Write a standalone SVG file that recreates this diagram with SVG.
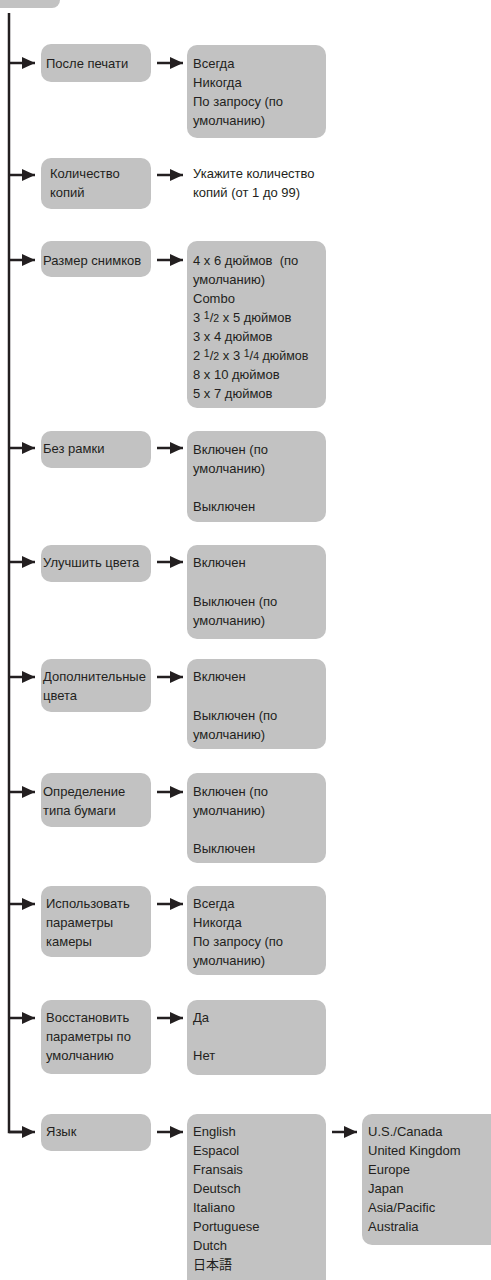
<svg xmlns="http://www.w3.org/2000/svg" width="491" height="1280" viewBox="0 0 491 1280">
<style>
.box{fill:#c2c2c2;}
.t{font-family:"Liberation Sans","Noto Sans CJK JP",sans-serif;font-size:13px;fill:#231f20;}
.sm{font-size:10.5px;}
.ln{stroke:#231f20;stroke-width:2.5;fill:none;}
</style>
<defs>
<marker id="ah" markerWidth="13" markerHeight="12" refX="13" refY="6" orient="auto" markerUnits="userSpaceOnUse">
<path d="M0,0 L13,6 L0,12 Z" fill="#231f20"/>
</marker>
</defs>
<rect width="491" height="1280" fill="#ffffff"/>

<g id="top"><rect class="box" x="-20" y="-20" width="80" height="28" rx="8"/></g>

<g id="connectors">
<path class="ln" d="M9,13 V1132 H23"/>
<line class="ln" x1="9" y1="63" x2="35" y2="63" marker-end="url(#ah)"/>
<line class="ln" x1="9" y1="175" x2="35" y2="175" marker-end="url(#ah)"/>
<line class="ln" x1="9" y1="260" x2="35" y2="260" marker-end="url(#ah)"/>
<line class="ln" x1="9" y1="448" x2="35" y2="448" marker-end="url(#ah)"/>
<line class="ln" x1="9" y1="562" x2="35" y2="562" marker-end="url(#ah)"/>
<line class="ln" x1="9" y1="677" x2="35" y2="677" marker-end="url(#ah)"/>
<line class="ln" x1="9" y1="792" x2="35" y2="792" marker-end="url(#ah)"/>
<line class="ln" x1="9" y1="904" x2="35" y2="904" marker-end="url(#ah)"/>
<line class="ln" x1="9" y1="1018" x2="35" y2="1018" marker-end="url(#ah)"/>
<line class="ln" x1="9" y1="1132" x2="35" y2="1132" marker-end="url(#ah)"/>
<line class="ln" x1="157" y1="63" x2="183" y2="63" marker-end="url(#ah)"/>
<line class="ln" x1="157" y1="175" x2="183" y2="175" marker-end="url(#ah)"/>
<line class="ln" x1="157" y1="260" x2="183" y2="260" marker-end="url(#ah)"/>
<line class="ln" x1="157" y1="448" x2="183" y2="448" marker-end="url(#ah)"/>
<line class="ln" x1="157" y1="562" x2="183" y2="562" marker-end="url(#ah)"/>
<line class="ln" x1="157" y1="677" x2="183" y2="677" marker-end="url(#ah)"/>
<line class="ln" x1="157" y1="792" x2="183" y2="792" marker-end="url(#ah)"/>
<line class="ln" x1="157" y1="904" x2="183" y2="904" marker-end="url(#ah)"/>
<line class="ln" x1="157" y1="1018" x2="183" y2="1018" marker-end="url(#ah)"/>
<line class="ln" x1="157" y1="1132" x2="183" y2="1132" marker-end="url(#ah)"/>
<line class="ln" x1="332" y1="1132" x2="357" y2="1132" marker-end="url(#ah)"/>
</g>

<g id="cat1"><rect class="box" x="41" y="44" width="110" height="38" rx="10"/>
<text class="t" x="46" y="68">После печати</text></g>
<g id="opt1"><rect class="box" x="187" y="45" width="139" height="93" rx="10"/>
<text class="t" x="193" y="68">Всегда</text><text class="t" x="193" y="87">Никогда</text><text class="t" x="193" y="106">По запросу (по</text><text class="t" x="193" y="125">умолчанию)</text></g>

<g id="cat2"><rect class="box" x="41" y="158" width="110" height="51" rx="10"/>
<text class="t" x="50" y="178">Количество</text><text class="t" x="50" y="197">копий</text></g>
<g id="opt2"><text class="t" x="193" y="178">Укажите количество</text><text class="t" x="193" y="197">копий (от 1 до 99)</text></g>

<g id="cat3"><rect class="box" x="41" y="241" width="110" height="36" rx="10"/>
<text class="t" x="43" y="265">Размер снимков</text></g>
<g id="opt3"><rect class="box" x="187" y="241" width="139" height="167" rx="10"/>
<text class="t" x="193" y="265" xml:space="preserve">4 x 6 дюймов  (по</text>
<text class="t" x="193" y="284">умолчанию)</text>
<text class="t" x="193" y="303">Combo</text>
<text class="t" x="193" y="322">3 <tspan class="sm" dy="-3">1</tspan><tspan dy="3">/</tspan><tspan class="sm">2</tspan> x 5 дюймов</text>
<text class="t" x="193" y="341">3 x 4 дюймов</text>
<text class="t" x="193" y="360">2 <tspan class="sm" dy="-3">1</tspan><tspan dy="3">/</tspan><tspan class="sm">2</tspan> x 3 <tspan class="sm" dy="-3">1</tspan><tspan dy="3">/</tspan><tspan class="sm">4</tspan><tspan font-size="12.5"> дюймов</tspan></text>
<text class="t" x="193" y="379">8 x 10 дюймов</text>
<text class="t" x="193" y="398">5 x 7 дюймов</text></g>

<g id="cat4"><rect class="box" x="41" y="431" width="110" height="37" rx="10"/>
<text class="t" x="43" y="453">Без рамки</text></g>
<g id="opt4"><rect class="box" x="187" y="431" width="139" height="91" rx="10"/>
<text class="t" x="193" y="454">Включен (по</text><text class="t" x="193" y="473">умолчанию)</text><text class="t" x="193" y="511">Выключен</text></g>

<g id="cat5"><rect class="box" x="41" y="545" width="110" height="37" rx="10"/>
<text class="t" x="43" y="567">Улучшить цвета</text></g>
<g id="opt5"><rect class="box" x="187" y="545" width="139" height="94" rx="10"/>
<text class="t" x="193" y="567">Включен</text><text class="t" x="193" y="606">Выключен (по</text><text class="t" x="193" y="625">умолчанию)</text></g>

<g id="cat6"><rect class="box" x="41" y="659" width="110" height="53" rx="10"/>
<text class="t" x="43" y="681">Дополнительные</text><text class="t" x="43" y="700">цвета</text></g>
<g id="opt6"><rect class="box" x="187" y="659" width="139" height="90" rx="10"/>
<text class="t" x="193" y="681">Включен</text><text class="t" x="193" y="720">Выключен (по</text><text class="t" x="193" y="739">умолчанию)</text></g>

<g id="cat7"><rect class="box" x="41" y="773" width="110" height="54" rx="10"/>
<text class="t" x="43" y="796">Определение</text><text class="t" x="43" y="815">типа бумаги</text></g>
<g id="opt7"><rect class="box" x="187" y="773" width="139" height="90" rx="10"/>
<text class="t" x="193" y="796">Включен (по</text><text class="t" x="193" y="815">умолчанию)</text><text class="t" x="193" y="853">Выключен</text></g>

<g id="cat8"><rect class="box" x="41" y="886" width="110" height="71" rx="10"/>
<text class="t" x="46" y="908">Использовать</text><text class="t" x="46" y="927">параметры</text><text class="t" x="46" y="946">камеры</text></g>
<g id="opt8"><rect class="box" x="187" y="886" width="139" height="89" rx="10"/>
<text class="t" x="193" y="908">Всегда</text><text class="t" x="193" y="927">Никогда</text><text class="t" x="193" y="946">По запросу (по</text><text class="t" x="193" y="965">умолчанию)</text></g>

<g id="cat9"><rect class="box" x="41" y="1000" width="110" height="74" rx="10"/>
<text class="t" x="46" y="1022">Восстановить</text><text class="t" x="46" y="1041">параметры по</text><text class="t" x="46" y="1060">умолчанию</text></g>
<g id="opt9"><rect class="box" x="187" y="1000" width="139" height="75" rx="10"/>
<text class="t" x="193" y="1022">Да</text><text class="t" x="193" y="1060">Нет</text></g>

<g id="cat10"><rect class="box" x="41" y="1114" width="110" height="37" rx="10"/>
<text class="t" x="46" y="1136">Язык</text></g>
<g id="opt10"><rect class="box" x="187" y="1114" width="139" height="190" rx="10"/>
<text class="t" x="193" y="1136">English</text><text class="t" x="193" y="1155">Espacol</text><text class="t" x="193" y="1174">Fransais</text><text class="t" x="193" y="1193">Deutsch</text><text class="t" x="193" y="1212">Italiano</text><text class="t" x="193" y="1231">Portuguese</text><text class="t" x="193" y="1250">Dutch</text><text class="t" x="193" y="1269">日本語</text></g>
<g id="region"><rect class="box" x="362" y="1114" width="150" height="131" rx="10"/>
<text class="t" x="368" y="1136">U.S./Canada</text><text class="t" x="368" y="1155">United Kingdom</text><text class="t" x="368" y="1174">Europe</text><text class="t" x="368" y="1193">Japan</text><text class="t" x="368" y="1212">Asia/Pacific</text><text class="t" x="368" y="1231">Australia</text></g>
</svg>
